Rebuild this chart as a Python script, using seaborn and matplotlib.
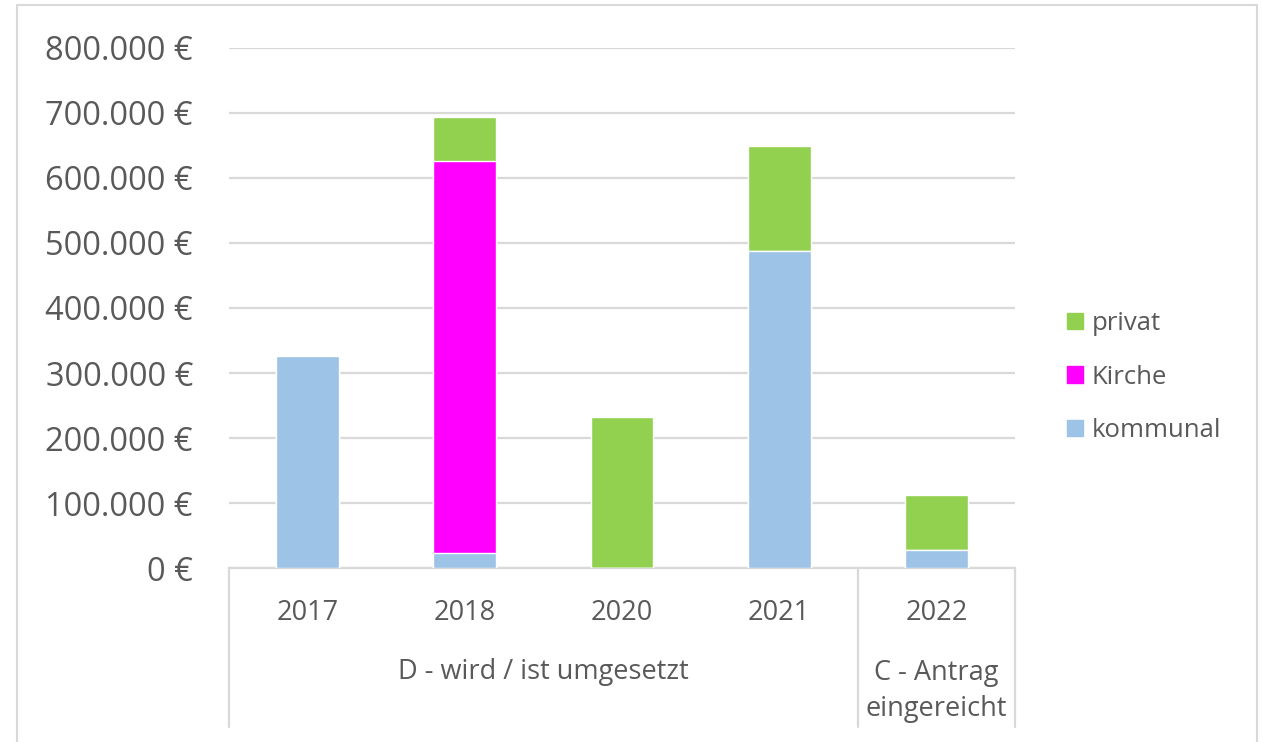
import matplotlib.pyplot as plt
import matplotlib.patches as mpatches
import matplotlib.transforms as mtransforms
import seaborn as sns
import pandas as pd

years = ["2017", "2018", "2020", "2021", "2022"]
kommunal = [327000, 23000, 0, 488000, 28000]
kirche = [0, 603000, 0, 0, 0]
privat = [0, 67000, 232000, 161000, 84000]
groups = ["D - wird / ist umgesetzt", "C - Antrag\neingereicht"]
yticks = [0, 100000, 200000, 300000, 400000, 500000, 600000, 700000, 800000]

c_privat = "#92d050"
c_kirche = "#ff00ff"
c_kommunal = "#9dc3e6"
grey_txt = "#595959"
grid_col = "#d9d9d9"

sns.set_style("white")
plt.rcParams['font.family'] = ['Open Sans', 'DejaVu Sans']

df = pd.DataFrame({"year": years, "kommunal": kommunal, "kirche": kirche, "privat": privat})
df["k2"] = df["kommunal"] + df["kirche"]
df["total"] = df["k2"] + df["privat"]

fig = plt.figure(figsize=(12.62, 7.42), dpi=100)
ax = fig.add_axes([229 / 1262, 1 - 568.3 / 742, (1015 - 229) / 1262, (568.3 - 47.7) / 742])

# stacked bars: draw cumulative totals from the top layer down
sns.barplot(data=df, x="year", y="total", color=c_privat, saturation=1, width=0.4, ax=ax, zorder=3)
sns.barplot(data=df, x="year", y="k2", color=c_kirche, saturation=1, width=0.4, ax=ax, zorder=4)
sns.barplot(data=df, x="year", y="kommunal", color=c_kommunal, saturation=1, width=0.4, ax=ax, zorder=5)

ax.set_xlim(-0.5, 4.5)
ax.set_ylim(0, 800000)
ax.set_yticks(yticks)
ax.set_yticklabels([f"{v:,.0f}".replace(",", ".") + " €" for v in yticks],
                   fontsize=23.5, color=grey_txt)
ax.tick_params(axis="y", length=0, pad=26)
ax.set_xticks([])
ax.set_xlabel("")
ax.set_ylabel("")
ax.grid(axis="y", color=grid_col, linewidth=1.6, zorder=0)
ax.set_axisbelow(True)
for s in ["top", "right", "left"]:
    ax.spines[s].set_visible(False)
ax.spines["bottom"].set_color(grid_col)
ax.spines["bottom"].set_linewidth(1.6)

# multi-level category axis
trans = mtransforms.blended_transform_factory(ax.transData, ax.transAxes)
for xs in [-0.5, 3.5, 4.5]:
    ax.plot([xs, xs], [0, -0.304], transform=trans, color=grid_col, lw=1.6, clip_on=False)
for i, y in enumerate(years):
    ax.text(i, -0.085, y, transform=trans, ha="center", va="center", fontsize=19.5, color=grey_txt)
ax.text(1.5, -0.2, groups[0], transform=trans, ha="center", va="center", fontsize=19.5, color=grey_txt)
ax.text(4.0, -0.236, groups[1], transform=trans, ha="center", va="center", fontsize=19.5,
        color=grey_txt, linespacing=1.4)

# legend
handles = [mpatches.Patch(color=c_privat, label="privat"),
           mpatches.Patch(color=c_kirche, label="Kirche"),
           mpatches.Patch(color=c_kommunal, label="kommunal")]
leg = fig.legend(handles=handles, loc="center left", bbox_to_anchor=(1044 / 1262, 1 - 377 / 742),
                 frameon=False, fontsize=18.5, handlelength=0.6, handleheight=0.6,
                 handletextpad=0.35, labelspacing=1.1)
for t in leg.get_texts():
    t.set_color(grey_txt)

# chart border
fig.patches.append(mpatches.Rectangle((17 / 1262, -0.01), (1257 - 17) / 1262, 1 - 5 / 742 + 0.01,
                                      transform=fig.transFigure, fill=False,
                                      edgecolor=grid_col, linewidth=1.5))

fig.savefig("out.png", dpi=100)
